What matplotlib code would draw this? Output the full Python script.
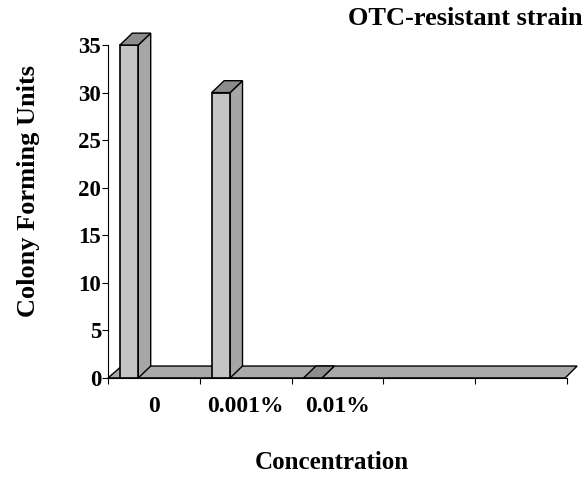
import numpy as np
import matplotlib
matplotlib.use('Agg')
import matplotlib.pyplot as plt
from matplotlib.patches import Polygon

plt.rcParams['font.family'] = ['Liberation Serif', 'DejaVu Serif']
plt.rcParams['font.weight'] = 'bold'

# colony counts per OTC concentration
concentrations = ['0', '0.001%', '0.01%']
cfu = [35, 30, 0]
n_slots = 5

fig = plt.figure(figsize=(5.87, 4.79), dpi=100)
ax = fig.add_axes([0.184, 0.211, 0.782, 0.695])
ax.set_xlim(0, n_slots)
ax.set_ylim(0, 35)

# depth offsets for the fake 3-D look
ddx = 0.135
ddy = 1.25
bar_off = 0.13
bar_w = 0.2

# floor slab
floor = Polygon([(0, 0), (n_slots - 0.02, 0), (n_slots + 0.11, ddy), (0.15, ddy)],
                closed=True, facecolor='#a9a9a9', edgecolor='black', lw=1.0,
                clip_on=False, zorder=2)
ax.add_patch(floor)

x = np.arange(len(cfu))
ax.bar(x + bar_off, cfu, width=bar_w, align='edge', color='#c4c4c4',
       edgecolor='black', lw=1.2, zorder=4, clip_on=False)
for xi, v in zip(x, cfu):
    x0 = xi + bar_off
    x1 = x0 + bar_w
    side = Polygon([(x1, 0), (x1 + ddx, ddy), (x1 + ddx, v + ddy), (x1, v)],
                   closed=True, facecolor='#a6a6a6', edgecolor='black', lw=1.0,
                   clip_on=False, zorder=3)
    top = Polygon([(x0, v), (x1, v), (x1 + ddx, v + ddy), (x0 + ddx, v + ddy)],
                  closed=True, facecolor='#8c8c8c', edgecolor='black', lw=1.0,
                  clip_on=False, zorder=5)
    ax.add_patch(side)
    ax.add_patch(top)

for s in ['top', 'right']:
    ax.spines[s].set_visible(False)
ax.spines['left'].set_linewidth(0.8)
ax.spines['bottom'].set_linewidth(0.8)
ax.spines['bottom'].set_zorder(6)

ax.set_yticks(range(0, 36, 5))
ax.tick_params(axis='y', direction='out', length=4, width=0.8, labelsize=16.5, pad=1)
ax.set_xticks(range(n_slots + 1))
ax.set_xticklabels([])
ax.tick_params(axis='x', direction='out', length=4, width=0.8)
for lab in ax.get_yticklabels():
    lab.set_fontweight('bold')

for i, c in enumerate(concentrations):
    ax.text(i + 0.5, -3.0, c, ha='center', va='center', fontsize=17, fontweight='bold')

fig.text(0.566, 0.035, 'Concentration', ha='center', va='center', fontsize=18, fontweight='bold')
fig.text(0.049, 0.601, 'Colony Forming Units', ha='center', va='center', rotation=90,
         fontsize=19, fontweight='bold')
fig.text(0.993, 0.962, 'OTC-resistant strain', ha='right', va='center', fontsize=19,
         fontweight='bold')

fig.savefig('out.png', dpi=100)
